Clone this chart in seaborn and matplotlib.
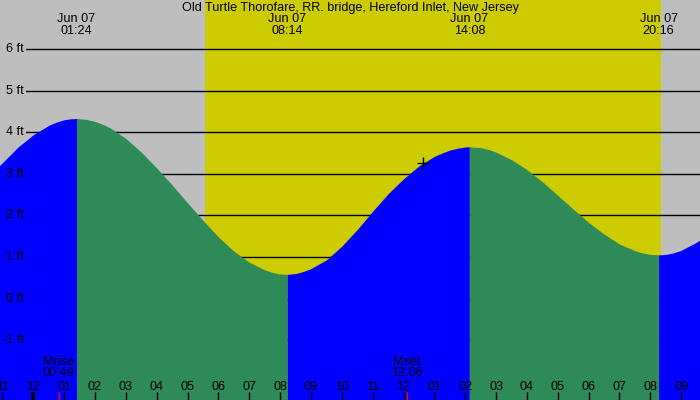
import matplotlib
matplotlib.use('Agg')
import matplotlib.pyplot as plt
import matplotlib.transforms as mtransforms
import numpy as np
import seaborn as sns

sns.set_theme(style='white')
plt.rcParams['font.family'] = ['Liberation Sans', 'DejaVu Sans']

TITLE = 'Old Turtle Thorofare, RR. bridge, Hereford Inlet, New Jersey'

# tide curve (hours after midnight, feet)
times = [-1.2, -0.5, 0.0, 0.5, 0.75, 1.0, 1.2, 1.4,
         1.7, 2.0, 2.25, 2.5, 3.0, 3.5, 4.0, 4.5, 5.0, 5.5, 6.0, 6.5, 7.0, 7.5,
         7.75, 8.0, 8.233,
         8.5, 8.75, 9.0, 9.5, 10.0, 10.5, 11.0, 11.5, 12.0, 12.5, 13.0, 13.25, 13.5,
         13.75, 14.0, 14.133,
         14.5, 14.8, 15.0, 15.5, 16.0, 16.5, 17.0, 17.5, 18.0, 18.5, 19.0, 19.5,
         19.75, 20.0, 20.267,
         20.5, 20.75, 21.0, 21.5, 21.7]
heights = [3.12, 3.64, 3.94, 4.165, 4.243, 4.30, 4.322, 4.33,
           4.312, 4.26, 4.188, 4.10, 3.85, 3.52, 3.14, 2.73, 2.30, 1.88, 1.48, 1.14, 0.87, 0.69,
           0.627, 0.59, 0.58,
           0.60, 0.65, 0.72, 0.93, 1.26, 1.66, 2.10, 2.52, 2.88, 3.19, 3.42, 3.50, 3.57,
           3.615, 3.645, 3.65,
           3.63, 3.575, 3.52, 3.34, 3.10, 2.81, 2.48, 2.15, 1.83, 1.55, 1.31, 1.15,
           1.096, 1.06, 1.05,
           1.06, 1.098, 1.16, 1.355, 1.46]

# high / low tide events
extreme_times = [1.4, 8.233, 14.133, 20.267]
extreme_dates = ['Jun 07', 'Jun 07', 'Jun 07', 'Jun 07']
extreme_labels = ['01:24', '08:14', '14:08', '20:16']

# daylight
sunrise = 5.566
sunset = 20.35

# moon events
moon_times = [0.817, 12.1]
moon_names = ['Mrise', 'Mset']
moon_labels = ['00:49', '12:06']

# current time marker
now_time = 12.63
now_height = 3.26

levels = [-1, 0, 1, 2, 3, 4, 5, 6]
hour_ticks = list(range(-1, 22))
hour_labels = ['%02d' % ((h % 12) or 12) for h in hour_ticks]

GRAY = '#bebebe'
YELLOW = '#cccc00'
RISING = '#0000ff'
FALLING = '#2e8b57'
FS = 9.1

fig = plt.figure(figsize=(7, 4), dpi=100)
ax = fig.add_axes([0, 0, 1, 1])
ax.set_xlim(-1.08, 21.61)
ax.set_ylim(-2.44, 7.18)
ax.set_facecolor(GRAY)
for s in ax.spines.values():
    s.set_visible(False)
ax.set_axisbelow(False)

ax.axvspan(sunrise, sunset, color=YELLOW, lw=0, zorder=0.5)
for lvl in levels:
    ax.axhline(lvl, xmin=26 / 700, color='black', lw=1, zorder=1)

# fill each stretch between tide events, blue rising / green falling
t = np.array(times)
h = np.array(heights)
cuts = [0] + [int(np.argmin(np.abs(t - e))) for e in extreme_times] + [len(t) - 1]
for a, b in zip(cuts[:-1], cuts[1:]):
    col = RISING if h[b] > h[a] else FALLING
    ax.fill_between(t[a:b + 1], h[a:b + 1], -3, color=col, lw=0, zorder=2)

ax.plot([now_time], [now_height], marker='+', color='black', ms=9, mew=1, zorder=3)

ytrans = mtransforms.blended_transform_factory(ax.transAxes, ax.transData)
for lvl in levels:
    ax.text(24 / 700, lvl, '%d ft' % lvl, transform=ytrans, ha='right',
            va='center', fontsize=FS, color='black', zorder=4)

xtrans = mtransforms.blended_transform_factory(ax.transData, ax.transAxes)
for et, d, lab in zip(extreme_times, extreme_dates, extreme_labels):
    ax.text(et, 1 - 19 / 400, d, transform=xtrans, ha='center', va='center',
            fontsize=FS, color='black', zorder=4)
    ax.text(et, 1 - 31 / 400, lab, transform=xtrans, ha='center', va='center',
            fontsize=FS, color='black', zorder=4)

for mt, name, lab in zip(moon_times, moon_names, moon_labels):
    ax.text(mt, 1 - 362 / 400, name, transform=xtrans, ha='center', va='center',
            fontsize=FS, color='black', zorder=4)
    ax.text(mt, 1 - 373 / 400, lab, transform=xtrans, ha='center', va='center',
            fontsize=FS, color='black', zorder=4)

fig.text(0.5, 1 - 8 / 400, TITLE, ha='center', va='center', fontsize=FS,
         color='black')

ax.set_yticks([])
ax.set_xticks(hour_ticks)
ax.set_xticklabels(hour_labels)
ax.set_xticks(moon_times, minor=True)
ax.tick_params(axis='x', which='major', direction='in', length=5.8, width=1,
               color='black', pad=-13.5, labelsize=FS, labelcolor='black',
               bottom=True)
ax.tick_params(axis='x', which='minor', direction='in', length=5.8, width=1,
               color='red', bottom=True)
# midnight tick drawn heavier
for tk, hv in zip(ax.xaxis.get_major_ticks(), hour_ticks):
    if hv == 0:
        tk.tick1line.set_markeredgewidth(3)

fig.savefig('out.png', dpi=100)
